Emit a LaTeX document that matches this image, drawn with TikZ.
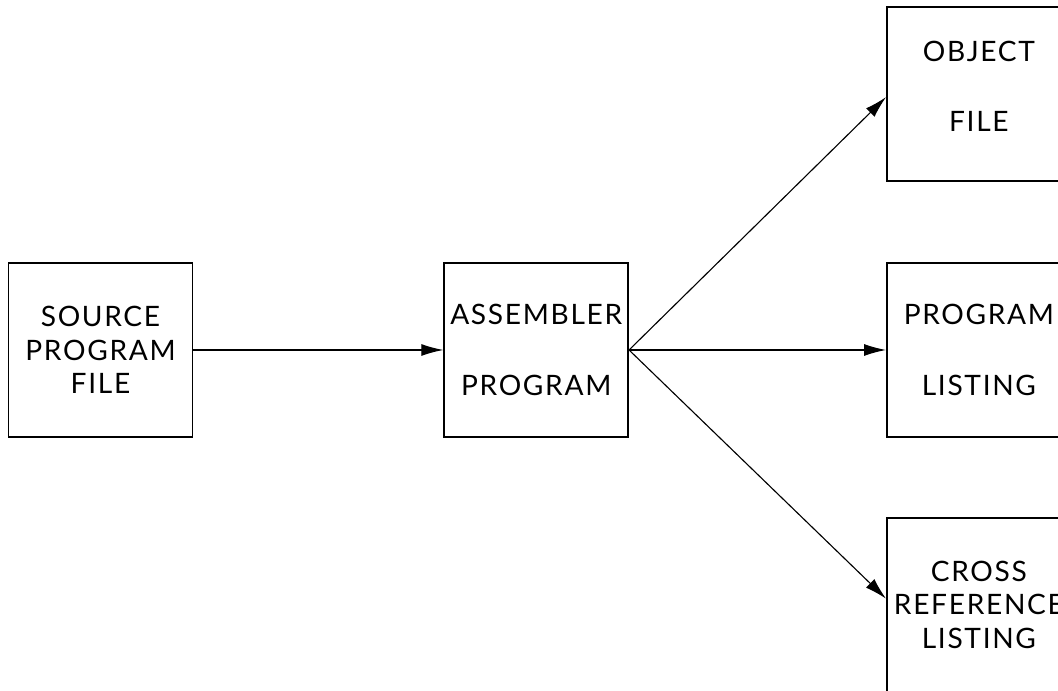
\documentclass[tikz,border=0pt]{standalone}
\usepackage{fontspec}
\setmainfont{Lato}[LetterSpace=6]
\usetikzlibrary{arrows.meta,positioning}

\begin{document}
\begin{tikzpicture}[
    node distance=2cm,
    block/.style={rectangle, draw, line width=1.2pt, minimum width=4.6cm, minimum height=4.35cm, align=center, inner sep=0pt, font=\fontsize{20}{24}\selectfont},
    arrow/.style={-{Latex[length=0.55cm, width=0.3cm]}, line width=0.8pt}
]
\clip (0,0) rectangle (26.45,17.275);

% Input and assembler
\node[block] (source) at (2.5125,8.525) {SOURCE\\PROGRAM\\FILE};
\node[block, right=6.25cm of source] (asm) {ASSEMBLER\\[0.95cm]PROGRAM};

% Outputs
\node[block, right=6.425cm of asm] (listing) {PROGRAM\\[0.95cm]LISTING};
\node[block, above=of listing] (object) {OBJECT\\[0.9cm]FILE\\[-0.45cm]};
\node[block, below=1.975cm of listing] (xref) {CROSS\\REFERENCE\\LISTING};

% Flow arrows
\draw[arrow] (source) -- (asm);
\draw[arrow] (asm.east) -- ([yshift=-0.07cm]object.west);
\draw[arrow] (asm.east) -- (listing);
\draw[arrow] (asm.east) -- ([yshift=0.15cm]xref.west);

\end{tikzpicture}
\end{document}
